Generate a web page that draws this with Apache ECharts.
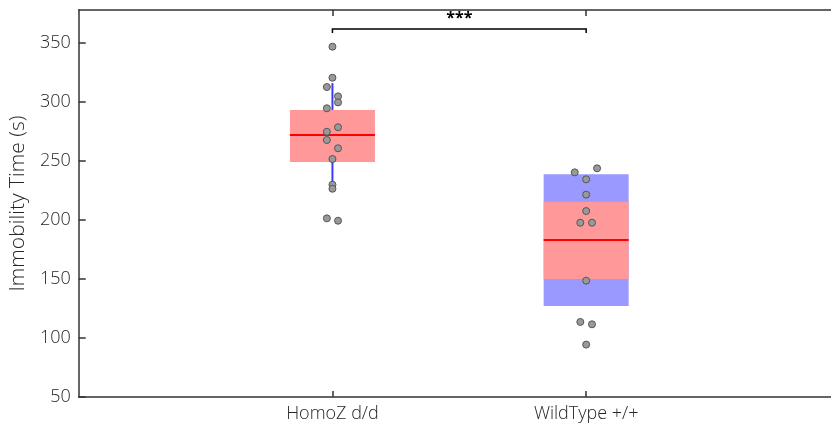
<!DOCTYPE html>
<html>
<head>
<meta charset="utf-8">
<script src="https://cdn.jsdelivr.net/npm/echarts@6/dist/echarts.min.js"></script>
<style>
  html, body { margin: 0; padding: 0; background: #fff; }
  #chart { width: 831px; height: 428px; }
</style>
</head>
<body>
<div id="chart"></div>
<script>
// groups sit at x = 1 and x = 2
var categories = ['HomoZ d/d', 'WildType +/+'];
var yTicks = [50, 100, 150, 200, 250, 300, 350];

// [x, q1, median, q3]
var iqrBoxes = [
    [1, 249.2, 272, 293.2],
    [2, 150, 183, 215.5]
];
// [x, low, high]  (blue range)
var blueRanges = [
    [1, 231, 316],
    [2, 127.1, 238.7]
];
var blueAsBox = [false, true];

// individual animals, x jittered
var homozPoints = [
    [1, 346.9], [1, 320.6], [0.978, 312.7], [1.022, 304.8], [1.022, 299.7],
    [0.978, 294.7], [1.022, 278.6], [0.978, 274.8], [0.978, 267.8], [1.022, 260.8],
    [1, 251.7], [1, 229.9], [1, 226.5], [0.978, 201.4], [1.022, 199.4]
];
var wildPoints = [
    [1.955, 240.4], [2.043, 243.8], [2, 234.5], [2, 221.5], [2, 207.6],
    [1.977, 197.7], [2.023, 197.7], [2, 148.6], [1.977, 113.6], [2.023, 111.6],
    [2, 94.4]
];

// significance bracket: [x1, x2, y]
var bracket = [[1, 2, 361.9]];
var sigLabel = '***';

var BOX_W = 0.335;
var FONT = "'Open Sans', 'DejaVu Sans', sans-serif";
var TXT = '#262626';

var chart = echarts.init(document.getElementById('chart'));

function renderBlue(params, api) {
    var x = api.value(0);
    var lo = api.coord([x, api.value(1)]);
    var hi = api.coord([x, api.value(2)]);
    var w = api.size([BOX_W, 0])[0];
    if (blueAsBox[params.dataIndex]) {
        return {
            type: 'rect',
            shape: { x: lo[0] - w / 2, y: hi[1], width: w, height: lo[1] - hi[1] },
            style: { fill: '#9999ff' }
        };
    }
    return {
        type: 'line',
        shape: { x1: lo[0], y1: lo[1], x2: hi[0], y2: hi[1] },
        style: { stroke: '#3a3aff', lineWidth: 2 }
    };
}

function renderBox(params, api) {
    var x = api.value(0);
    var q1 = api.coord([x, api.value(1)]);
    var med = api.coord([x, api.value(2)]);
    var q3 = api.coord([x, api.value(3)]);
    var w = api.size([BOX_W, 0])[0];
    return {
        type: 'group',
        children: [{
            type: 'rect',
            shape: { x: q1[0] - w / 2, y: q3[1], width: w, height: q1[1] - q3[1] },
            style: { fill: '#ff9999' }
        }, {
            type: 'line',
            shape: { x1: med[0] - w / 2, y1: med[1], x2: med[0] + w / 2, y2: med[1] },
            style: { stroke: '#ff0000', lineWidth: 2 }
        }]
    };
}

function renderBracket(params, api) {
    var y = api.value(2);
    var a = api.coord([api.value(0), y]);
    var b = api.coord([api.value(1), y]);
    var mid = api.coord([(api.value(0) + api.value(1)) / 2, y]);
    return {
        type: 'group',
        children: [{
            type: 'polyline',
            shape: { points: [[a[0], a[1] + 4], [a[0], a[1]], [b[0], b[1]], [b[0], b[1] + 4]] },
            style: { stroke: '#000', lineWidth: 1.5, fill: null }
        }, {
            type: 'text',
            style: {
                text: sigLabel, x: mid[0], y: mid[1] - 3,
                align: 'center', verticalAlign: 'bottom',
                font: 'bold 16px ' + FONT, fill: '#000'
            }
        }]
    };
}

var option = {
    animation: false,
    grid: { left: 78, top: 10, bottom: 31, right: 0 },
    xAxis: [{
        type: 'value', min: 0, max: 2.965,
        splitLine: { show: false },
        axisLine: { show: true, lineStyle: { color: '#333', width: 1.5 } },
        axisTick: { inside: true, length: 6, customValues: [1, 2], lineStyle: { color: '#333', width: 1.5 } },
        axisLabel: {
            customValues: [1, 2], margin: 8,
            color: TXT, fontSize: 18, fontFamily: FONT, fontWeight: 300,
            formatter: function (v) { return categories[v - 1] || ''; }
        }
    }, {
        type: 'value', min: 0, max: 2.965, position: 'top',
        splitLine: { show: false },
        axisLine: { show: true, lineStyle: { color: '#333', width: 1.5 } },
        axisTick: { inside: true, length: 6, customValues: [1, 2], lineStyle: { color: '#333', width: 1.5 } },
        axisLabel: { show: false }
    }],
    yAxis: {
        type: 'value', min: 50, max: 378,
        name: 'Immobility Time (s)', nameLocation: 'middle', nameGap: 45,
        nameTextStyle: { color: TXT, fontSize: 21, fontFamily: FONT, fontWeight: 300 },
        splitLine: { show: false },
        axisLine: { show: true, lineStyle: { color: '#333', width: 1.5 } },
        axisTick: { inside: true, length: 7, customValues: yTicks, lineStyle: { color: '#333', width: 1.5 } },
        axisLabel: {
            customValues: yTicks, margin: 8,
            color: TXT, fontSize: 18, fontFamily: FONT, fontWeight: 300
        }
    },
    series: [{
        type: 'custom', name: 'range', renderItem: renderBlue,
        encode: { x: 0, y: [1, 2] }, data: blueRanges, z: 1
    }, {
        type: 'custom', name: 'iqr', renderItem: renderBox,
        encode: { x: 0, y: [1, 2, 3] }, data: iqrBoxes, z: 2
    }, {
        type: 'custom', name: 'sig', renderItem: renderBracket,
        encode: { x: [0, 1], y: 2 }, data: bracket, z: 4
    }, {
        type: 'scatter', name: categories[0], data: homozPoints, z: 3,
        symbolSize: 7,
        itemStyle: { color: '#999999', borderColor: '#555', borderWidth: 1, opacity: 1 }
    }, {
        type: 'scatter', name: categories[1], data: wildPoints, z: 3,
        symbolSize: 7,
        itemStyle: { color: '#999999', borderColor: '#555', borderWidth: 1, opacity: 1 }
    }]
};
chart.setOption(option);
</script>
</body>
</html>
